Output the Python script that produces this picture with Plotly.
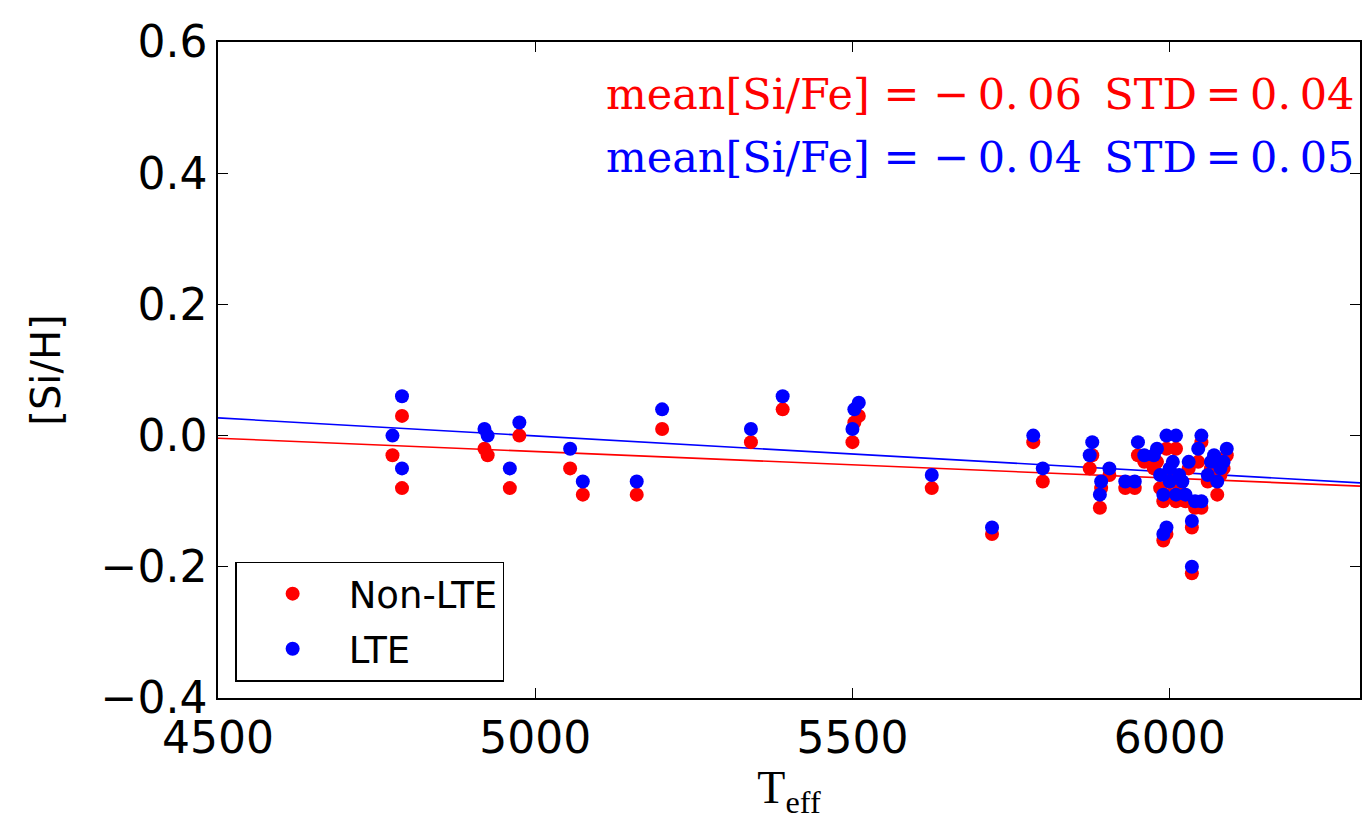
import plotly.graph_objects as go

teff = [4775, 4790, 4790, 4920, 4925, 4960, 4975, 5055, 5075, 5160,
        5200, 5340, 5390, 5500, 5503, 5510, 5625, 5720, 5785, 5800,
        5874, 5878, 5890, 5892, 5905, 5930, 5945, 5950, 5960, 5975,
        5980, 5990, 5995, 5990, 5995, 6000, 6005, 6010, 6010, 6015,
        6020, 6025, 6030, 6035, 6035, 6040, 6045, 6050, 6050, 6060,
        6065, 6070, 6075, 6080, 6085, 6090, 6000, 5985]
si_lte = [0.00, 0.06, -0.05, 0.01, 0.00, -0.05, 0.02, -0.02, -0.07, -0.07,
          0.04, 0.01, 0.06, 0.01, 0.04, 0.05, -0.06, -0.14, 0.00, -0.05,
          -0.03, -0.01, -0.09, -0.07, -0.05, -0.07, -0.07, -0.01, -0.03, -0.03,
          -0.02, -0.15, -0.14, -0.09, 0.00, -0.05, -0.04, 0.00, -0.09, -0.06,
          -0.07, -0.09, -0.04, -0.20, -0.13, -0.10, -0.02, 0.00, -0.10, -0.06,
          -0.04, -0.03, -0.07, -0.05, -0.04, -0.02, -0.07, -0.06]
si_nlte = [-0.03, 0.03, -0.08, -0.02, -0.03, -0.08, 0.00, -0.05, -0.09, -0.09,
           0.01, -0.01, 0.04, -0.01, 0.02, 0.03, -0.08, -0.15, -0.01, -0.07,
           -0.05, -0.03, -0.11, -0.08, -0.06, -0.08, -0.08, -0.03, -0.04, -0.05,
           -0.04, -0.16, -0.15, -0.10, -0.02, -0.07, -0.06, -0.02, -0.10, -0.08,
           -0.09, -0.10, -0.05, -0.21, -0.14, -0.11, -0.04, -0.01, -0.11, -0.07,
           -0.05, -0.05, -0.09, -0.06, -0.05, -0.03, -0.09, -0.08]

fit_x = [4500, 6300]
fit_lte = [0.027, -0.072]
fit_nlte = [-0.004, -0.077]

x_ticks = [4500, 5000, 5500, 6000]
y_ticks = [-0.4, -0.2, 0.0, 0.2, 0.4, 0.6]
y_labels = ["\u22120.4", "\u22120.2", "0.0", "0.2", "0.4", "0.6"]

TH = "\u2009"
txt_nlte = "mean[Si/Fe] = \u2212" + TH + "0." + TH + "06 " + TH + "STD" + TH + "=" + TH + "0." + TH + "04"
txt_lte = "mean[Si/Fe] = \u2212" + TH + "0." + TH + "04 " + TH + "STD" + TH + "=" + TH + "0." + TH + "05"

fig = go.Figure()
fig.add_trace(go.Scatter(x=fit_x, y=fit_nlte, mode="lines",
                         line=dict(color="red", width=1.6), showlegend=False))
fig.add_trace(go.Scatter(x=fit_x, y=fit_lte, mode="lines",
                         line=dict(color="blue", width=1.6), showlegend=False))
fig.add_trace(go.Scatter(x=teff, y=si_nlte, mode="markers", name="Non-LTE",
                         legendgroup="nlte",
                         marker=dict(color="red", size=14, line=dict(width=0))))
fig.add_trace(go.Scatter(x=teff, y=si_lte, mode="markers", name="LTE",
                         legendgroup="lte",
                         marker=dict(color="blue", size=14, line=dict(width=0))))

axis_common = dict(showline=True, linecolor="black", linewidth=1.5, mirror="allticks",
                   ticks="inside", ticklen=10, tickwidth=1.2, tickcolor="black",
                   showgrid=False, zeroline=False,
                   tickfont=dict(family="DejaVu Sans", size=44, color="black"))

fig.update_layout(
    width=1372, height=820,
    margin=dict(l=218, r=10, t=42, b=122),
    paper_bgcolor="white", plot_bgcolor="white",
    xaxis=dict(range=[4500, 6300], tickvals=x_ticks, ticktext=[str(v) for v in x_ticks],
               title=dict(text="T<sub>eff</sub>", standoff=14,
                          font=dict(family="Liberation Serif", size=46, color="black")),
               **axis_common),
    yaxis=dict(range=[-0.4, 0.6], tickvals=y_ticks, ticktext=y_labels,
               title=dict(text="[Si/H]", standoff=28,
                          font=dict(family="DejaVu Sans", size=40, color="black")),
               **axis_common),
    legend=dict(x=0.015, y=0.025, xanchor="left", yanchor="bottom",
                bordercolor="black", borderwidth=1.5, bgcolor="white",
                font=dict(family="DejaVu Sans", size=37, color="black"),
                itemwidth=102, tracegroupgap=4),
    annotations=[
        dict(x=0.9965, y=0.92, xref="paper", yref="paper", xanchor="right", yanchor="middle",
             text=txt_nlte, showarrow=False,
             font=dict(family="DejaVu Serif", size=43, color="red")),
        dict(x=0.9965, y=0.825, xref="paper", yref="paper", xanchor="right", yanchor="middle",
             text=txt_lte, showarrow=False,
             font=dict(family="DejaVu Serif", size=43, color="blue")),
    ],
)

fig.write_html("out.html")
